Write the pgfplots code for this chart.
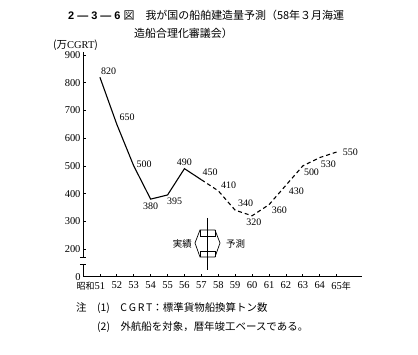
\documentclass[border=0pt]{standalone}
\usepackage{pgfplots}
\pgfplotsset{compat=1.18}
\usepackage{fontspec}
\setmainfont{Liberation Serif}
\newfontfamily\jp{Noto Sans CJK JP}
\newfontfamily\hb{Liberation Sans}
\begin{document}
\begin{tikzpicture}
\path[use as bounding box] (0bp,0bp) rectangle (418bp,355bp);
\begin{axis}[at={(83bp,78.3bp)}, anchor=south west, scale only axis,
  width=279bp, height=224.4bp,
  xmin=50, xmax=66.5, ymin=100, ymax=910,
  axis lines=left, axis line style={-, line width=0.8pt},
  ytick={100,200,300,400,500,600,700,800,900},
  yticklabels={0,200,300,400,500,600,700,800,900},
  xtick={51,52,53,54,55,56,57,58,59,60,61,62,63,64,65},
  xticklabels={\makebox[0pt][r]{\jp\fontsize{9}{10}\selectfont 昭和}51,52,53,54,55,56,57,58,59,60,61,62,63,64,65\makebox[0pt][l]{\jp\fontsize{9}{10}\selectfont 年}},
  tick style={black, line width=0.7pt},
  major tick length=3bp,
  tick align=inside,
  ticklabel style={font=\fontsize{10.5}{11}\selectfont},
  /pgf/number format/assume math mode=true,
  yticklabel style={xshift=1bp},
  xticklabel style={yshift=-1.5bp},
  clip=false,
]
\addplot[black, line width=1.1pt] coordinates {(51,820) (52,650) (53,500) (54,380) (55,395) (56,490) (57,450)};
\addplot[black, line width=1.1pt, dash pattern=on 4bp off 3bp] coordinates {(57,450) (58,410) (59,340) (60,320) (61,360) (62,430) (63,500) (64,530) (65,550)};
\begin{scope}[font=\fontsize{10}{11}\selectfont]
\node[anchor=south west, inner sep=1bp] at (axis cs:51,825) {820};
\node[anchor=west, inner sep=1bp] at (axis cs:52.1,675) {650};
\node[anchor=west, inner sep=1bp] at (axis cs:53.1,505) {500};
\node[anchor=north, inner sep=1bp] at (axis cs:54,372) {380};
\node[anchor=north west, inner sep=1bp] at (axis cs:54.9,388) {395};
\node[anchor=south, inner sep=1bp] at (axis cs:56,497) {490};
\node[anchor=south west, inner sep=1bp] at (axis cs:57,460) {450};
\node[anchor=south west, inner sep=1bp] at (axis cs:58.1,415) {410};
\node[anchor=south west, inner sep=1bp] at (axis cs:59.1,347) {340};
\node[anchor=north, inner sep=1bp] at (axis cs:60.1,312) {320};
\node[anchor=north west, inner sep=1bp] at (axis cs:61.1,355) {360};
\node[anchor=north west, inner sep=1bp] at (axis cs:62.1,425) {430};
\node[anchor=north west, inner sep=1bp] at (axis cs:63.0,492) {500};
\node[anchor=north west, inner sep=1bp] at (axis cs:64.0,522) {530};
\node[anchor=west, inner sep=1bp] at (axis cs:65.3,548) {550};
\end{scope}
% axis break
\fill[white] ([xshift=-4bp]axis cs:50,143) rectangle ([xshift=4bp, yshift=7bp]axis cs:50,143);
\draw[line width=0.7pt] ([xshift=-3bp]axis cs:50,143) -- ([xshift=3bp]axis cs:50,143);
\draw[line width=0.7pt] ([xshift=-3bp, yshift=7bp]axis cs:50,143) -- ([xshift=3bp, yshift=7bp]axis cs:50,143);
\end{axis}
% marker
\draw[line width=0.7pt] (207bp,137bp) -- (207bp,85bp);
\draw[line width=0.7pt] (195bp,112bp) -- (200bp,125bp) -- (215bp,125bp) -- (220bp,112bp) -- (215bp,98bp) -- (200bp,98bp) -- cycle;
\draw[line width=0.7pt] (200bp,125bp) -- (200bp,119bp) -- (215bp,119bp) -- (215bp,125bp);
\draw[line width=0.7pt] (200bp,98bp) -- (200bp,104bp) -- (215bp,104bp) -- (215bp,98bp);
\node[font=\jp\fontsize{9.5}{10}\selectfont, anchor=east, inner sep=0] at (192bp,111bp) {実績};
\node[font=\jp\fontsize{9.5}{10}\selectfont, anchor=west, inner sep=0] at (226bp,111bp) {予測};
% titles
\node[anchor=west, inner sep=0] at (68bp,340bp) {{\hb\bfseries\fontsize{11}{12}\selectfont 2 ― 3 ― 6 }{\jp\fontsize{11}{12}\selectfont 図\quad 我が国の船舶建造量予測（58年３月海運}};
\node[anchor=west, inner sep=0, font=\jp\fontsize{11}{12}\selectfont] at (134bp,322bp) {造船合理化審議会）};
\node[anchor=west, inner sep=0, font=\fontsize{10.5}{11}\selectfont] at (53bp,310bp) {{\jp (万}CGRT{\jp )}};
% notes
\node[anchor=west, inner sep=0, font=\jp\fontsize{10.5}{12}\selectfont] at (76bp,47bp) {注\quad (1)\quad C\,G\,R\,T：標準貨物船換算トン数};
\node[anchor=west, inner sep=0, font=\jp\fontsize{10.5}{12}\selectfont] at (97bp,28bp) {(2)\quad 外航船を対象，暦年竣工ベースである。};
\end{tikzpicture}
\end{document}
